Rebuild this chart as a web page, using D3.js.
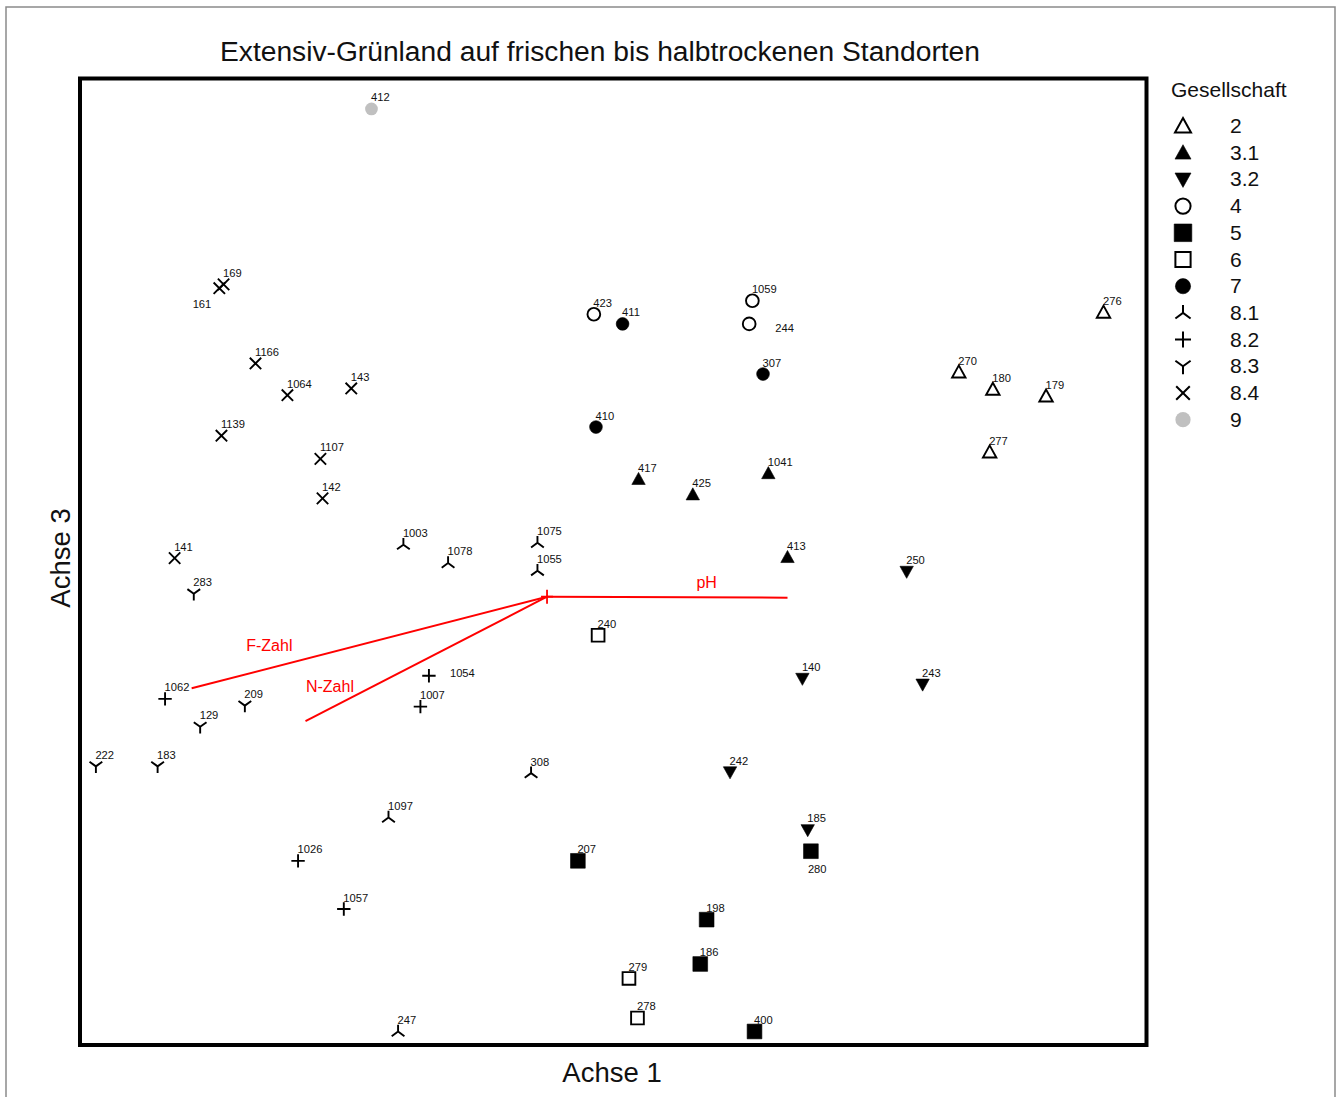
<!DOCTYPE html>
<html>
<head>
<meta charset="utf-8">
<script src="https://cdn.jsdelivr.net/npm/d3@7/dist/d3.min.js"></script>
<style>
  html, body { margin: 0; padding: 0; background: #fff; }
  svg { display: block; font-family: "Liberation Sans", Arial, sans-serif; }
</style>
</head>
<body>
<script>
// ---------- DATA (ordination scores, arbitrary units 0..100) ----------
const groups = ["2", "3.1", "3.2", "4", "5", "6", "7", "8.1", "8.2", "8.3", "8.4", "9"];

const plotIds    = ["276","270","180","179","277",
                    "417","425","1041","413",
                    "250","140","243","242","185",
                    "423","1059","244",
                    "207","280","198","186","400",
                    "240","279","278",
                    "411","410","307",
                    "1003","1078","1075","1055","308","1097","247",
                    "1062","1054","1007","1026","1057",
                    "283","209","129","222","183",
                    "169","161","1166","1064","143","1139","1107","142","141",
                    "412"];
const plotGroup  = ["2","2","2","2","2",
                    "3.1","3.1","3.1","3.1",
                    "3.2","3.2","3.2","3.2","3.2",
                    "4","4","4",
                    "5","5","5","5","5",
                    "6","6","6",
                    "7","7","7",
                    "8.1","8.1","8.1","8.1","8.1","8.1","8.1",
                    "8.2","8.2","8.2","8.2","8.2",
                    "8.3","8.3","8.3","8.3","8.3",
                    "8.4","8.4","8.4","8.4","8.4","8.4","8.4","8.4","8.4",
                    "9"];
const axis1      = [96.1, 82.5, 85.7, 90.7, 85.4,
                    52.4, 57.5, 64.6, 66.4,
                    77.6, 67.8, 79.1, 61.0, 68.3,
                    48.2, 63.1, 62.8,
                    46.7, 68.6, 58.8, 58.2, 63.3,
                    48.6, 51.5, 52.3,
                    50.9, 48.4, 64.1,
                    30.3, 34.5, 42.9, 42.9, 42.3, 28.9, 29.8,
                    7.9, 32.7, 31.9, 20.4, 24.7,
                    10.6, 15.4, 11.2, 1.4, 7.2,
                    13.4, 13.0, 16.4, 19.4, 25.4, 13.2, 22.5, 22.7, 8.8,
                    27.3];
const axis3      = [75.9, 69.7, 67.9, 67.2, 61.4,
                    58.6, 57.0, 59.2, 50.5,
                    49.0, 37.9, 37.3, 28.2, 22.2,
                    75.7, 77.1, 74.7,
                    19.0, 20.0, 12.9, 8.3, 1.3,
                    42.4, 6.8, 2.7,
                    74.7, 64.0, 69.5,
                    51.8, 49.9, 52.0, 49.1, 28.1, 23.5, 1.3,
                    35.8, 38.2, 35.0, 19.0, 14.0,
                    46.7, 35.1, 32.9, 28.8, 28.8,
                    78.8, 78.4, 70.6, 67.3, 68.0, 63.1, 60.7, 56.6, 50.4,
                    97.0];

// labels that are not placed at the default upper-right spot
const labelSide = { "161": "lowerleft", "244": "right", "280": "below", "1054": "right" };

// environmental vectors (biplot arrows)
const vecNames  = ["pH", "F-Zahl", "N-Zahl"];
const vecOrigin = [43.8, 46.4];
const vecEndX   = [66.4, 10.4, 21.1];
const vecEndY   = [46.3, 36.9, 33.5];
const vecLabX   = [58.8, 17.7, 23.4];
const vecLabY   = [47.9, 41.3, 37.1];

const titleText = "Extensiv-Grünland auf frischen bis halbtrockenen Standorten";
const xTitle = "Achse 1", yTitle = "Achse 3", legendTitle = "Gesellschaft";

// ---------- LAYOUT ----------
const W = 1337, H = 1097;
const svg = d3.select("body").append("svg").attr("width", W).attr("height", H);

const x = d3.scaleLinear().domain([0, 100]).range([81, 1145]);
const y = d3.scaleLinear().domain([0, 100]).range([1044, 80]);

// outer border
svg.append("rect").attr("x", 6).attr("y", 7).attr("width", 1329).attr("height", 1110)
  .attr("fill", "none").attr("stroke", "#8a8a8a").attr("stroke-width", 1.5);

// title
svg.append("text").attr("x", 600).attr("y", 61).attr("text-anchor", "middle")
  .attr("font-size", 28.2).attr("fill", "#111").text(titleText);

// plot frame
svg.append("rect").attr("x", 80).attr("y", 78.5).attr("width", 1066.5).attr("height", 966.5)
  .attr("fill", "none").attr("stroke", "#000").attr("stroke-width", 4);

// axis titles
svg.append("text").attr("x", 612).attr("y", 1082).attr("text-anchor", "middle")
  .attr("font-size", 27.5).attr("fill", "#111").text(xTitle);
svg.append("text").attr("transform", "translate(70,558) rotate(-90)").attr("text-anchor", "middle")
  .attr("font-size", 27.5).attr("fill", "#111").text(yTitle);

// ---------- SYMBOLS ----------
function symbolPath(g, s) {
  const p = d3.path();
  switch (g) {
    case "2": case "3.1":
      p.moveTo(0, -s); p.lineTo(s, s * 0.8); p.lineTo(-s, s * 0.8); p.closePath(); break;
    case "3.2":
      p.moveTo(0, s); p.lineTo(s, -s * 0.8); p.lineTo(-s, -s * 0.8); p.closePath(); break;
    case "4": case "7": case "9":
      p.arc(0, 0, s * 0.95, 0, 2 * Math.PI); break;
    case "5":
      p.rect(-s * 1.1, -s * 1.1, s * 2.2, s * 2.2); break;
    case "6":
      p.rect(-s * 0.95, -s * 0.95, s * 1.9, s * 1.9); break;
    case "8.1":
      p.moveTo(0, -s); p.lineTo(0, 0); p.moveTo(0, 0); p.lineTo(-s * 0.95, s * 0.7);
      p.moveTo(0, 0); p.lineTo(s * 0.95, s * 0.7); break;
    case "8.2":
      p.moveTo(-s, 0); p.lineTo(s, 0); p.moveTo(0, -s); p.lineTo(0, s); break;
    case "8.3":
      p.moveTo(0, s); p.lineTo(0, 0); p.moveTo(0, 0); p.lineTo(-s * 0.95, -s * 0.7);
      p.moveTo(0, 0); p.lineTo(s * 0.95, -s * 0.7); break;
    case "8.4":
      p.moveTo(-s * 0.85, -s * 0.85); p.lineTo(s * 0.85, s * 0.85);
      p.moveTo(s * 0.85, -s * 0.85); p.lineTo(-s * 0.85, s * 0.85); break;
  }
  return p.toString();
}
function symbolStyle(sel, g) {
  const filled = ["3.1", "3.2", "5", "7", "9"].includes(g);
  const col = g === "9" ? "#c0c0c0" : "#000";
  sel.attr("fill", filled ? col : "none")
     .attr("stroke", filled ? (g === "9" ? "none" : col) : col)
     .attr("stroke-width", filled ? 0.6 : 1.9);
}

// ---------- VECTORS ----------
const vg = svg.append("g");
vecNames.forEach((n, i) => {
  vg.append("line")
    .attr("x1", x(vecOrigin[0])).attr("y1", y(vecOrigin[1]))
    .attr("x2", x(vecEndX[i])).attr("y2", y(vecEndY[i]))
    .attr("stroke", "#ff0000").attr("stroke-width", 2);
  vg.append("text").attr("x", x(vecLabX[i])).attr("y", y(vecLabY[i]))
    .attr("text-anchor", "middle").attr("dominant-baseline", "central")
    .attr("font-size", 16).attr("fill", "#ff0000").text(n);
});
vg.append("path").attr("transform", `translate(${x(vecOrigin[0])},${y(vecOrigin[1])})`)
  .attr("d", "M0,-7L0,7M-6,0L6,0").attr("stroke", "#ff0000").attr("stroke-width", 1.8).attr("fill", "none");

// ---------- POINTS ----------
const pts = plotIds.map((id, i) => ({ id, g: plotGroup[i], a1: axis1[i], a3: axis3[i] }));
const pg = svg.append("g");
pts.forEach(d => {
  const cx = x(d.a1), cy = y(d.a3);
  const sym = pg.append("path").attr("transform", `translate(${cx},${cy})`)
    .attr("d", symbolPath(d.g, 6.7));
  symbolStyle(sym, d.g);
  const side = labelSide[d.id];
  let lx = cx - 0.5, ly = cy - 7.5, anchor = "start";
  if (side === "lowerleft") { lx = cx - 8; ly = cy + 20; anchor = "end"; }
  if (side === "right") { lx = cx + 26; ly = cy + 8; anchor = "start"; }
  if (side === "below") { lx = cx - 3; ly = cy + 22; anchor = "start"; }
  if (d.id === "1054") { lx = cx + 21; ly = cy + 1; }
  pg.append("text").attr("x", lx).attr("y", ly).attr("text-anchor", anchor)
    .attr("font-size", 11.2).attr("fill", "#111").text(d.id);
});

// ---------- LEGEND ----------
const lg = svg.append("g");
lg.append("text").attr("x", 1171).attr("y", 97).attr("font-size", 21).attr("fill", "#111").text(legendTitle);
groups.forEach((g, i) => {
  const yy = 126 + i * 26.7;
  const sym = lg.append("path").attr("transform", `translate(1183,${yy})`).attr("d", symbolPath(g, 8));
  symbolStyle(sym, g);
  if (!["3.1", "3.2", "5", "7", "9"].includes(g)) sym.attr("stroke-width", 2);
  lg.append("text").attr("x", 1230).attr("y", yy + 7).attr("font-size", 21).attr("fill", "#111").text(g);
});
</script>
</body>
</html>
